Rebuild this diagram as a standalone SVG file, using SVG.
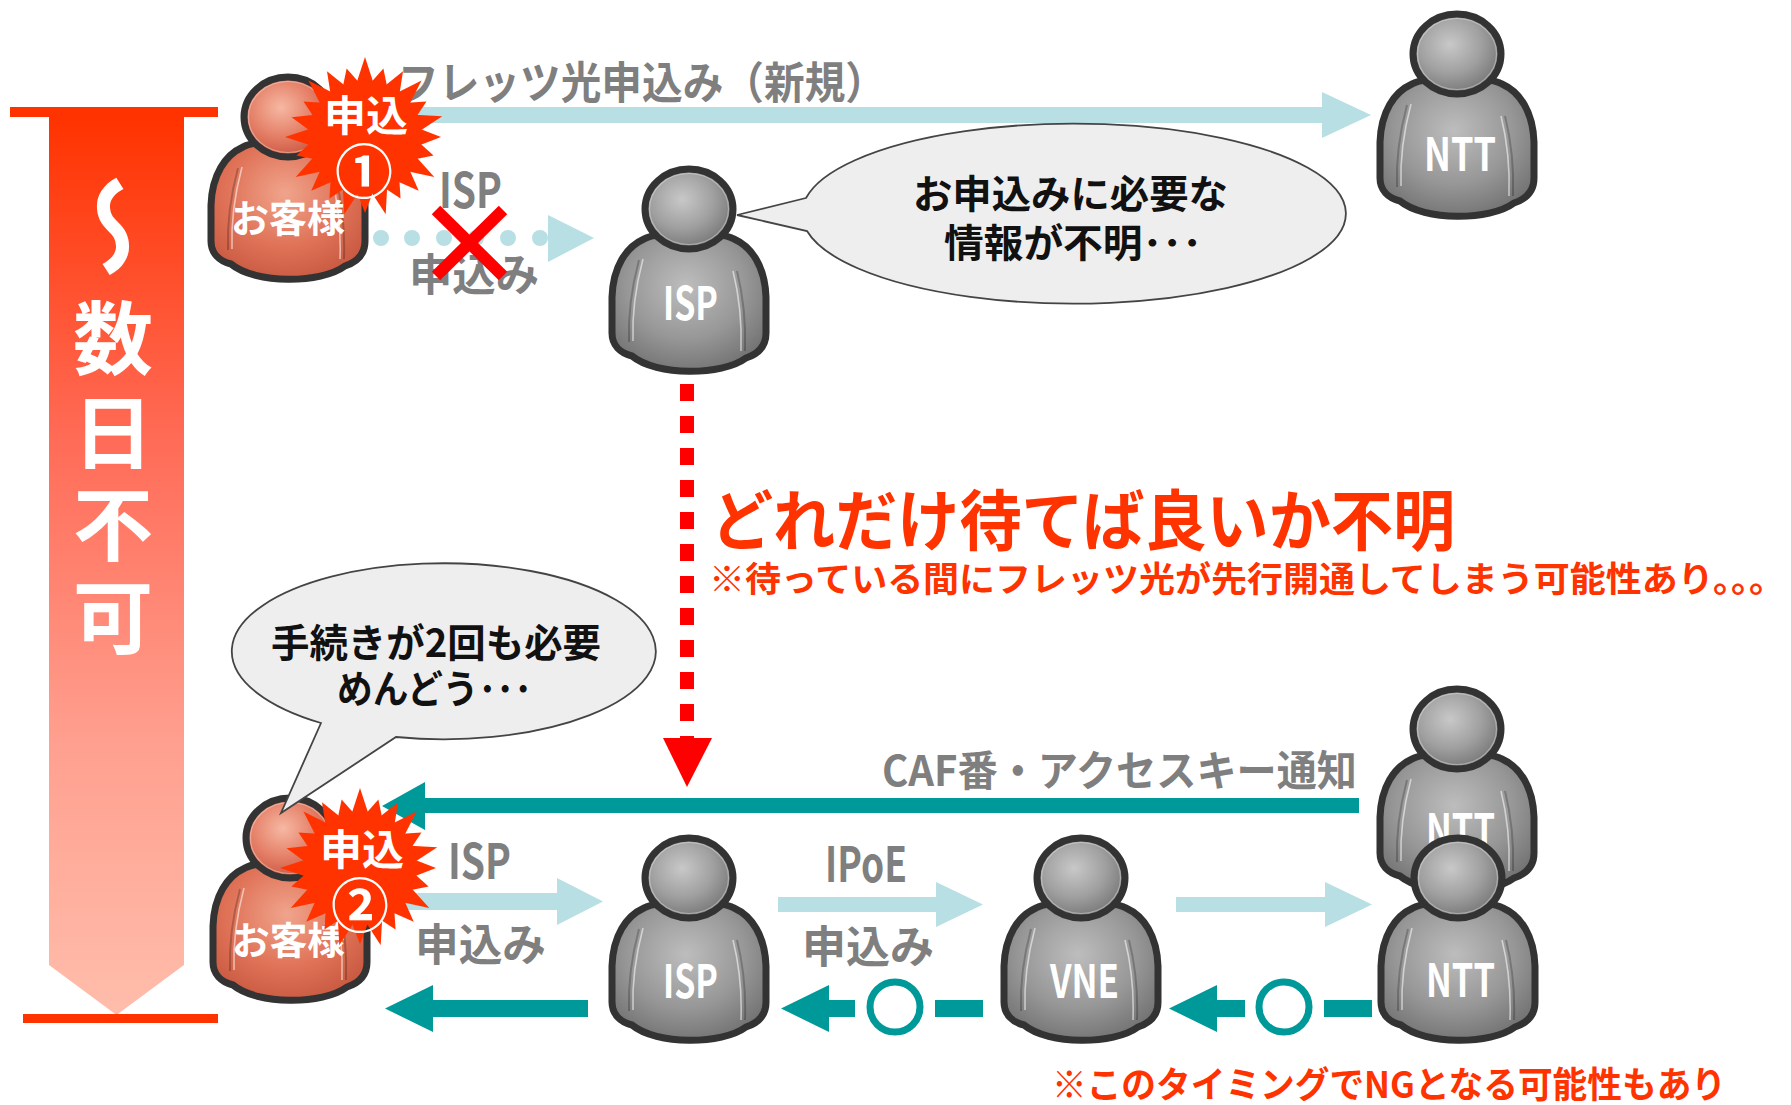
<svg xmlns="http://www.w3.org/2000/svg" xmlns:xlink="http://www.w3.org/1999/xlink" width="1791" height="1105" viewBox="0 0 1791 1105">
<style>
  text { font-family: "Noto Sans CJK JP", "Noto Sans", sans-serif; font-weight: 700; dominant-baseline: central; }
  .g { fill: #7f7f7f; }
  .w { fill: #ffffff; }
  .k { fill: #111111; }
  .r { fill: #ff3300; }
  .lb { fill: #b8dfe3; }
  .tl { fill: #009999; }
  .vert { writing-mode: vertical-rl; }
  .bubble { fill: #eeeeee; stroke: #444444; stroke-width: 1.8; }
  .outline { stroke: #333333; stroke-width: 7; stroke-linejoin: round; }
  .hi { fill: none; stroke: #ffffff; stroke-opacity: 0.55; stroke-width: 1.6; }
  .sh { fill: none; stroke: #000000; stroke-opacity: 0.22; stroke-width: 2; }
</style>
<defs>
  <linearGradient id="barGrad" x1="0" y1="0" x2="0" y2="1">
    <stop offset="0" stop-color="#ff3300"/>
    <stop offset="0.35" stop-color="#ff6a55"/>
    <stop offset="0.7" stop-color="#ffa090"/>
    <stop offset="1" stop-color="#ffbdab"/>
  </linearGradient>
  <radialGradient id="headGrey" cx="0.42" cy="0.38" r="0.65">
    <stop offset="0" stop-color="#c8c8c8"/>
    <stop offset="0.55" stop-color="#a0a0a0"/>
    <stop offset="1" stop-color="#747474"/>
  </radialGradient>
  <radialGradient id="bodyGrey" cx="0.48" cy="0.38" r="0.7">
    <stop offset="0" stop-color="#bdbdbd"/>
    <stop offset="0.55" stop-color="#979797"/>
    <stop offset="1" stop-color="#6c6c6c"/>
  </radialGradient>
  <radialGradient id="headOrange" cx="0.42" cy="0.38" r="0.65">
    <stop offset="0" stop-color="#f6b8a3"/>
    <stop offset="0.55" stop-color="#e58068"/>
    <stop offset="1" stop-color="#c9553e"/>
  </radialGradient>
  <radialGradient id="bodyOrange" cx="0.48" cy="0.38" r="0.7">
    <stop offset="0" stop-color="#f0a48c"/>
    <stop offset="0.55" stop-color="#df7257"/>
    <stop offset="1" stop-color="#c4553d"/>
  </radialGradient>

  <!-- generic person figure, 162 x 210 -->
  <g id="fig-grey">
    <path class="outline" fill="url(#bodyGrey)" d="M36,74 C18,82 5,102 4,132 L4,168 C4,180 12,188 24,191 C48,211 114,211 138,193 C150,189 158,181 158,168 L158,132 C157,102 144,82 126,74 C112,66 50,66 36,74 Z"/>
    <path class="sh" d="M31,95 C24,121 20,149 21,177"/>
    <path class="hi" d="M35,94 C28,120 24,148 25,176"/>
    <path class="sh" d="M129,106 C135,130 138,158 137,186"/>
    <path class="hi" d="M125,106 C131,130 134,158 133,186"/>
    <ellipse class="outline" fill="url(#headGrey)" cx="81" cy="44" rx="44" ry="40"/>
    <ellipse cx="81" cy="44" rx="39.5" ry="35.5" fill="none" stroke="#ffffff" stroke-opacity="0.35" stroke-width="1.2"/>
  </g>
  <g id="fig-orange">
    <path class="outline" fill="url(#bodyOrange)" d="M36,74 C18,82 5,102 4,132 L4,168 C4,180 12,188 24,191 C48,211 114,211 138,193 C150,189 158,181 158,168 L158,132 C157,102 144,82 126,74 C112,66 50,66 36,74 Z"/>
    <path class="sh" d="M31,95 C24,121 20,149 21,177"/>
    <path class="hi" d="M35,94 C28,120 24,148 25,176"/>
    <path class="sh" d="M129,106 C135,130 138,158 137,186"/>
    <path class="hi" d="M125,106 C131,130 134,158 133,186"/>
    <ellipse class="outline" fill="url(#headOrange)" cx="81" cy="44" rx="44" ry="40"/>
    <ellipse cx="81" cy="44" rx="39.5" ry="35.5" fill="none" stroke="#ffffff" stroke-opacity="0.35" stroke-width="1.2"/>
  </g>

  <!-- starburst badge -->
  <polygon id="spk1" points="-8.5,-54 0,-80 8.5,-54"/>
  <polygon id="spk2" points="-8.5,-54 0,-71 8.5,-54"/>
  <polygon id="spk3" points="-8.5,-54 0,-76 8.5,-54"/>
  <g id="burst" fill="#ff3300">
    <circle r="56"/>
    <use xlink:href="#spk1" transform="rotate(0)"/>
    <use xlink:href="#spk2" transform="rotate(15)"/>
    <use xlink:href="#spk3" transform="rotate(30)"/>
    <use xlink:href="#spk1" transform="rotate(45)"/>
    <use xlink:href="#spk2" transform="rotate(60)"/>
    <use xlink:href="#spk1" transform="rotate(75)"/>
    <use xlink:href="#spk3" transform="rotate(90)"/>
    <use xlink:href="#spk2" transform="rotate(105)"/>
    <use xlink:href="#spk1" transform="rotate(120)"/>
    <use xlink:href="#spk3" transform="rotate(135)"/>
    <use xlink:href="#spk2" transform="rotate(150)"/>
    <use xlink:href="#spk1" transform="rotate(165)"/>
    <use xlink:href="#spk3" transform="rotate(180)"/>
    <use xlink:href="#spk1" transform="rotate(195)"/>
    <use xlink:href="#spk2" transform="rotate(210)"/>
    <use xlink:href="#spk3" transform="rotate(225)"/>
    <use xlink:href="#spk1" transform="rotate(240)"/>
    <use xlink:href="#spk2" transform="rotate(255)"/>
    <use xlink:href="#spk1" transform="rotate(270)"/>
    <use xlink:href="#spk3" transform="rotate(285)"/>
    <use xlink:href="#spk2" transform="rotate(300)"/>
    <use xlink:href="#spk1" transform="rotate(315)"/>
    <use xlink:href="#spk3" transform="rotate(330)"/>
    <use xlink:href="#spk2" transform="rotate(345)"/>
  </g>
</defs>

<rect width="1791" height="1105" fill="#ffffff"/>

<!-- time bar on the left -->
<g id="timebar">
  <path d="M49,117 L184,117 L184,965 L116.5,1015 L49,965 Z" fill="url(#barGrad)"/>
  <rect x="10" y="107" width="208" height="10" class="r"/>
  <rect x="23" y="1014" width="195" height="9" class="r"/>
  <text class="w vert" font-size="80" x="113" y="174 298 392 484 577"><tspan font-size="105">～</tspan>数日不可</text>
</g>

<!-- connectors -->
<g id="connectors">
  <!-- customer -> NTT : flets application -->
  <path class="lb" d="M400,107 L1322,107 L1322,92 L1371,115 L1322,138 L1322,123 L400,123 Z"/>
  <text class="g" font-size="44" x="398" y="80" textLength="488" lengthAdjust="spacingAndGlyphs">フレッツ光申込み（新規）</text>

  <!-- customer -> ISP : rejected application (dotted) -->
  <g class="lb">
    <circle cx="381" cy="238" r="8"/>
    <circle cx="412" cy="238" r="8"/>
    <circle cx="444" cy="238" r="8"/>
    <circle cx="476" cy="238" r="8"/>
    <circle cx="508" cy="238" r="8"/>
    <circle cx="540" cy="238" r="8"/>
    <polygon points="548,215 594,238 548,262"/>
  </g>
  <text class="g" font-size="48" x="439" y="187" textLength="63" lengthAdjust="spacingAndGlyphs">ISP</text>
  <text class="g" font-size="44" x="409" y="272" textLength="130" lengthAdjust="spacingAndGlyphs">申込み</text>
  <g stroke="#ff0000" stroke-width="12" stroke-linecap="butt">
    <line x1="436" y1="210" x2="503" y2="276"/>
    <line x1="503" y1="210" x2="436" y2="276"/>
  </g>

  <!-- waiting period (dashed red) -->
  <line x1="687" y1="384" x2="687" y2="738" stroke="#ff0000" stroke-width="14" stroke-dasharray="17 15"/>
  <polygon points="663,738 712,738 687,787" fill="#ff0000"/>

  <!-- NTT -> customer : CAF number / access key -->
  <path class="tl" d="M1359,798 L425,798 L425,782 L382,806 L425,830 L425,813 L1359,813 Z"/>
  <text class="g" font-size="42" x="1357" y="767" text-anchor="end" textLength="475" lengthAdjust="spacingAndGlyphs">CAF番・アクセスキー通知</text>

  <!-- customer -> ISP -->
  <path class="lb" d="M400,893 L557,893 L557,878 L603,901.5 L557,925 L557,910 L400,910 Z"/>
  <text class="g" font-size="48" x="448" y="858" textLength="63" lengthAdjust="spacingAndGlyphs">ISP</text>
  <text class="g" font-size="44" x="415" y="942" textLength="131" lengthAdjust="spacingAndGlyphs">申込み</text>

  <!-- ISP -> VNE : IPoE -->
  <path class="lb" d="M778,897 L936,897 L936,882 L983,904.5 L936,927 L936,912 L778,912 Z"/>
  <text class="g" font-size="48" x="825" y="861" textLength="82" lengthAdjust="spacingAndGlyphs">IPoE</text>
  <text class="g" font-size="44" x="802" y="944" textLength="132" lengthAdjust="spacingAndGlyphs">申込み</text>

  <!-- VNE -> NTT -->
  <path class="lb" d="M1176,897 L1325,897 L1325,882 L1372,904.5 L1325,927 L1325,912 L1176,912 Z"/>

  <!-- replies back to the customer -->
  <path class="tl" d="M588,1000 L433,1000 L433,985 L385,1008.5 L433,1032 L433,1017 L588,1017 Z"/>
  <path class="tl" d="M855,1000 L829,1000 L829,985 L781,1008.5 L829,1032 L829,1017 L855,1017 Z"/>
  <circle cx="895" cy="1007" r="25" fill="none" stroke="#009999" stroke-width="7"/>
  <rect class="tl" x="935" y="1000" width="48" height="17"/>
  <path class="tl" d="M1245,1000 L1217,1000 L1217,985 L1169,1008.5 L1217,1032 L1217,1017 L1245,1017 Z"/>
  <circle cx="1284" cy="1007" r="25" fill="none" stroke="#009999" stroke-width="7"/>
  <rect class="tl" x="1324" y="1000" width="48" height="17"/>
</g>

<!-- nodes -->
<g id="customer-top">
  <use xlink:href="#fig-orange" transform="translate(207,73)"/>
  <g transform="translate(365,137)">
    <use xlink:href="#burst"/>
  </g>
  <text class="w" text-anchor="middle"><tspan x="366" y="112" font-size="42">申込</tspan><tspan x="364" y="168" font-size="58">①</tspan></text>
  <text class="w" font-size="38" x="231" y="215" textLength="114" lengthAdjust="spacingAndGlyphs">お客様</text>
</g>

<g id="isp-top">
  <use xlink:href="#fig-grey" transform="translate(608,165)"/>
  <text class="w" font-size="46" x="663" y="300" textLength="55" lengthAdjust="spacingAndGlyphs">ISP</text>
</g>

<g id="ntt-top">
  <use xlink:href="#fig-grey" transform="translate(1376,10)"/>
  <text class="w" font-size="46" x="1424" y="151" textLength="72" lengthAdjust="spacingAndGlyphs">NTT</text>
</g>

<g id="customer-bottom">
  <use xlink:href="#fig-orange" transform="translate(209,794)"/>
  <text class="w" font-size="38" x="232" y="937" textLength="113" lengthAdjust="spacingAndGlyphs">お客様</text>
  <g transform="translate(360,868)">
    <use xlink:href="#burst"/>
  </g>
  <text class="w" text-anchor="middle"><tspan x="362" y="846" font-size="42">申込</tspan><tspan x="360" y="902" font-size="58">②</tspan></text>
</g>

<g id="isp-bottom">
  <use xlink:href="#fig-grey" transform="translate(608,834)"/>
  <text class="w" font-size="46" x="663" y="978" textLength="55" lengthAdjust="spacingAndGlyphs">ISP</text>
</g>

<g id="vne">
  <use xlink:href="#fig-grey" transform="translate(1000,834)"/>
  <text class="w" font-size="46" x="1050" y="978" textLength="69" lengthAdjust="spacingAndGlyphs">VNE</text>
</g>

<g id="ntt-bottom">
  <use xlink:href="#fig-grey" transform="translate(1376,685)"/>
  <text class="w" font-size="46" x="1426" y="827" textLength="69" lengthAdjust="spacingAndGlyphs">NTT</text>
  <use xlink:href="#fig-grey" transform="translate(1377,834)"/>
  <text class="w" font-size="46" x="1426" y="977" textLength="69" lengthAdjust="spacingAndGlyphs">NTT</text>
</g>

<!-- speech bubbles -->
<g id="bubble-isp">
  <path class="bubble" d="M806,198 L737,215 L807,231 A272,90 0 1 0 806,198 Z"/>
  <text class="k" font-size="39" x="913" y="191" textLength="315" lengthAdjust="spacingAndGlyphs">お申込みに必要な</text>
  <text class="k" font-size="39" x="944" y="240" textLength="258" lengthAdjust="spacingAndGlyphs">情報が不明･･･</text>
</g>

<g id="bubble-customer">
  <path class="bubble" d="M321,723 L281,813 L396,737 A212,88 0 1 0 321,723 Z"/>
  <text class="k" font-size="39" x="271" y="640" textLength="330" lengthAdjust="spacingAndGlyphs">手続きが2回も必要</text>
  <text class="k" font-size="39" x="337" y="686" textLength="195" lengthAdjust="spacingAndGlyphs">めんどう･･･</text>
</g>

<!-- notes -->
<g id="notes">
  <text class="r"><tspan x="711" y="516" font-size="66" textLength="744" lengthAdjust="spacingAndGlyphs">どれだけ待てば良いか不明</tspan><tspan x="709" y="577" font-size="34.7" textLength="1076" lengthAdjust="spacingAndGlyphs">※待っている間にフレッツ光が先行開通してしまう可能性あり。。。</tspan></text>
  <text class="r" font-size="36" x="1052" y="1082" textLength="674" lengthAdjust="spacingAndGlyphs">※このタイミングでNGとなる可能性もあり</text>
</g>
</svg>
